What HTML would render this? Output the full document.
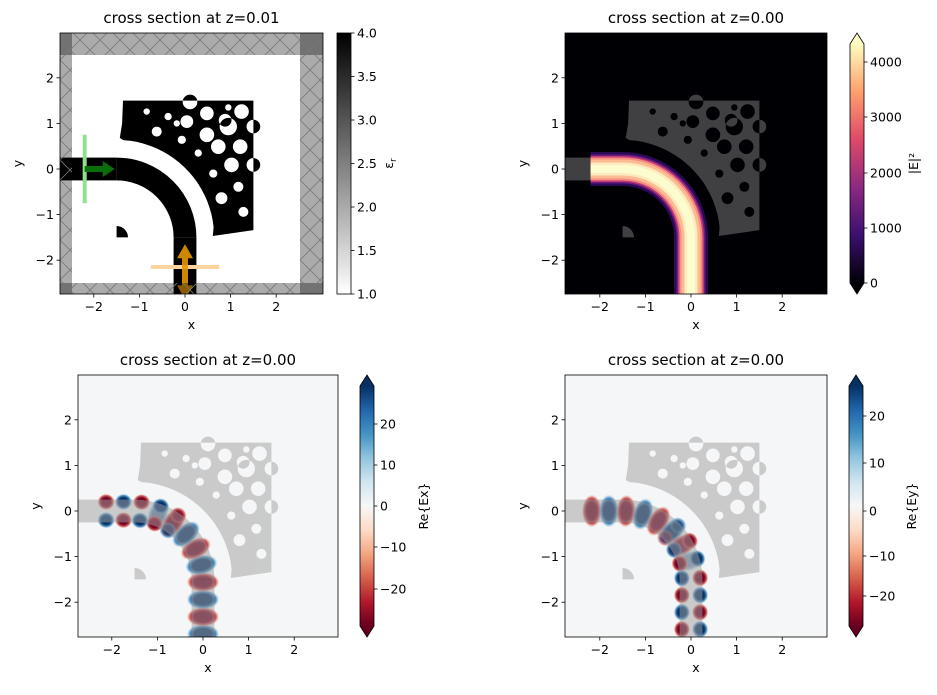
<!DOCTYPE html>
<html><head><meta charset="utf-8"><style>
html,body{margin:0;padding:0;background:#fff;}
svg text{font-family:"DejaVu Sans","Liberation Sans",sans-serif;fill:#000;}
</style></head><body>
<svg id="s" width="937" height="690" xmlns="http://www.w3.org/2000/svg">
<defs>
<pattern id="hatch" width="20" height="20" patternUnits="userSpaceOnUse">
<path d="M0,0L20,20M20,0L0,20" stroke="#7a7a7a" stroke-width="0.8" fill="none"/>
</pattern>
<radialGradient id="gr"><stop offset="0" stop-color="#67001f"/><stop offset="0.55" stop-color="#7a0524"/><stop offset="0.8" stop-color="#c43c3c" stop-opacity="0.8"/><stop offset="1" stop-color="#f4a582" stop-opacity="0"/></radialGradient>
<radialGradient id="gb"><stop offset="0" stop-color="#053061"/><stop offset="0.55" stop-color="#08356a"/><stop offset="0.8" stop-color="#2f7fba" stop-opacity="0.8"/><stop offset="1" stop-color="#92c5de" stop-opacity="0"/></radialGradient>
<linearGradient id="cgray" x1="0" y1="1" x2="0" y2="0"><stop offset="0" stop-color="#fff"/><stop offset="1" stop-color="#000"/></linearGradient>
<linearGradient id="cmag" x1="0" y1="1" x2="0" y2="0"><stop offset="0" stop-color="#000004"/><stop offset="0.2" stop-color="#3b0f70"/><stop offset="0.4" stop-color="#8c2981"/><stop offset="0.6" stop-color="#de4968"/><stop offset="0.8" stop-color="#fe9f6d"/><stop offset="1" stop-color="#fcfdbf"/></linearGradient>
<linearGradient id="crdbu" x1="0" y1="1" x2="0" y2="0"><stop offset="0" stop-color="#67001f"/><stop offset="0.1" stop-color="#b2182b"/><stop offset="0.2" stop-color="#d6604d"/><stop offset="0.3" stop-color="#f4a582"/><stop offset="0.4" stop-color="#fddbc7"/><stop offset="0.5" stop-color="#f7f7f7"/><stop offset="0.6" stop-color="#d1e5f0"/><stop offset="0.7" stop-color="#92c5de"/><stop offset="0.8" stop-color="#4393c3"/><stop offset="0.9" stop-color="#2166ac"/><stop offset="1" stop-color="#053061"/></linearGradient>
<clipPath id="c1"><rect x="60" y="33" width="263" height="261"/></clipPath>
<clipPath id="c2"><rect x="565" y="33" width="262" height="261"/></clipPath>
<clipPath id="c3"><rect x="78" y="375" width="260" height="262"/></clipPath>
<clipPath id="c4"><rect x="565" y="375" width="262" height="262"/></clipPath>
</defs>
</svg>
<script>
const S=45.6;
let out='';
const poly=[[-1.36,1.5],[1.5,1.5],[1.5,-1.34],[0.61,-1.47]];
for(let a=6;a<=86;a+=4){const t=a*Math.PI/180;const r=2.14;poly.push([-1.5+r*Math.cos(t),-1.5+r*Math.sin(t)]);}
poly.push([-1.43,0.68],[-1.38,1.0]);
const holes=[[0.11,1.47,0.16],[0.48,1.22,0.15],[1.24,1.26,0.16],[0.88,1.07,0.14],[0.04,1.04,0.14],[0.48,0.75,0.16],[0.95,0.93,0.19],[1.5,0.93,0.15],[0.73,0.49,0.16],[1.21,0.49,0.16],[-0.62,0.82,0.11],[-0.37,1.15,0.08],[-0.07,0.64,0.09],[0.29,0.35,0.08],[1.02,0.09,0.16],[1.5,0.09,0.15],[0.62,-0.1,0.09],[1.17,-0.39,0.11],[0.8,-0.64,0.13],[1.28,-0.94,0.11],[-0.84,1.26,0.07],[-0.18,1.0,0.07],[0.95,1.35,0.07]];
function mk(x0,y0){return {X:x=>x0+x*S,Y:y=>y0-y*S};}
function structure(m,fill,op){
 let d='M'+poly.map(p=>m.X(p[0]).toFixed(1)+','+m.Y(p[1]).toFixed(1)).join('L')+'Z';
 holes.forEach(h=>{const r=h[2]*S,cx=m.X(h[0]),cy=m.Y(h[1]);d+=`M${cx-r},${cy}a${r},${r} 0 1,0 ${2*r},0a${r},${r} 0 1,0 ${-2*r},0Z`;});
 let s=`<g opacity="${op}"><path d="${d}" fill="${fill}" fill-rule="evenodd"/>`;
 const r=1.5*S;
 s+=`<path d="M${m.X(-1.5)},${m.Y(0)}A${r},${r} 0 0 1 ${m.X(0)},${m.Y(-1.5)}" stroke="${fill}" stroke-width="${0.5*S}" fill="none"/>`;
 s+=`<rect x="${m.X(-2.8)}" y="${m.Y(0.25)}" width="${1.3*S}" height="${0.5*S}" fill="${fill}"/>`;
 s+=`<rect x="${m.X(-0.25)}" y="${m.Y(-1.5)}" width="${0.5*S}" height="${1.3*S}" fill="${fill}"/>`;
 const q=0.25*S;
 s+=`<path d="M${m.X(-1.5)},${m.Y(-1.5)}L${m.X(-1.5)},${m.Y(-1.25)}A${q},${q} 0 0 1 ${m.X(-1.25)},${m.Y(-1.5)}Z" fill="${fill}"/></g>`;
 return s;
}
function cl(s){
 if(s<0.7) return [-2.2+s,0,0];
 if(s<3.056){const th=Math.PI/2-(s-0.7)/1.5;return [-1.5+1.5*Math.cos(th),-1.5+1.5*Math.sin(th),Math.atan2(-Math.cos(th),Math.sin(th))];}
 return [0,-1.5-(s-3.056),-Math.PI/2];
}
function blob(m,x,y,phi,rx,ry,sign,op){
 const a=-phi*180/Math.PI;
 return `<ellipse cx="${m.X(x).toFixed(1)}" cy="${m.Y(y).toFixed(1)}" rx="${(rx*S).toFixed(1)}" ry="${(ry*S).toFixed(1)}" transform="rotate(${a.toFixed(1)} ${m.X(x).toFixed(1)} ${m.Y(y).toFixed(1)})" fill="url(#${sign?'gr':'gb'})" opacity="${Math.min(1,op).toFixed(2)}"/>`;
}
function field(m,comp){
 let s='';
 let start=comp=='x'?3.876+0.38:0.4-0.375;
 let step=comp=='x'?-0.38:0.375;
 for(let k=0;k<14;k++){
  const ss=start+k*step; if(ss<0||ss>4.5) continue;
  const [x,y,phi]=cl(ss);
  let w=comp=='x'?Math.abs(Math.sin(phi)):Math.abs(Math.cos(phi));
  let sign=(k%2==0);
  if(comp=='x') sign=(k%2==1);
  if(w>0.25) s+=blob(m,x,y,phi,0.22,0.36,sign,w*1.8);
  const p=1-w;
  if(p>0.25){const nx=-Math.sin(phi),ny=Math.cos(phi);
   s+=blob(m,x+nx*0.2,y+ny*0.2,phi,0.19,0.18,sign,p*1.8);
   s+=blob(m,x-nx*0.2,y-ny*0.2,phi,0.19,0.18,!sign,p*1.8);}
 }
 return s;
}
function axes(m,L,T,R,B,title){
 let s=`<rect x="${L}" y="${T}" width="${R-L}" height="${B-T}" fill="none" stroke="#000" stroke-width="0.8"/>`;
 for(let k=-2;k<=2;k++){const x=m.X(k);s+=`<line x1="${x}" y1="${B}" x2="${x}" y2="${B+3.5}" stroke="#000" stroke-width="0.8"/><text x="${x}" y="${B+17}" font-size="12.5" text-anchor="middle">${k<0?'\u2212'+(-k):k}</text>`;
  const y=m.Y(k);s+=`<line x1="${L}" y1="${y}" x2="${L-3.5}" y2="${y}" stroke="#000" stroke-width="0.8"/><text x="${L-6}" y="${y+4.5}" font-size="12.5" text-anchor="end">${k<0?'\u2212'+(-k):k}</text>`;}
 s+=`<text x="${(L+R)/2}" y="${B+35}" font-size="12.5" text-anchor="middle">x</text>`;
 s+=`<text transform="translate(${L-38},${(T+B)/2}) rotate(-90)" font-size="12.5" text-anchor="middle">y</text>`;
 s+=`<text x="${(L+R)/2}" y="${T-10}" font-size="15" text-anchor="middle">${title}</text>`;
 return s;
}
function cbar(x,t,b,grad,ext,ticks,label,lx,extcol){
 let s='';const w=14;
 if(ext){const e=11;
  s+=`<rect x="${x}" y="${t+e}" width="${w}" height="${b-t-2*e}" fill="url(#${grad})"/>`;
  s+=`<path d="M${x},${t+e}L${x+w/2},${t}L${x+w},${t+e}Z" fill="${extcol[0]}"/><path d="M${x},${b-e}L${x+w/2},${b}L${x+w},${b-e}Z" fill="${extcol[1]}"/>`;
  s+=`<path d="M${x},${t+e}L${x+w/2},${t}L${x+w},${t+e}L${x+w},${b-e}L${x+w/2},${b}L${x},${b-e}Z" fill="none" stroke="#000" stroke-width="0.8"/>`;
 } else {
  s+=`<rect x="${x}" y="${t}" width="${w}" height="${b-t}" fill="url(#${grad})" stroke="#000" stroke-width="0.8"/>`;
 }
 ticks.forEach(([y,l])=>{s+=`<line x1="${x+w}" y1="${y}" x2="${x+w+3.5}" y2="${y}" stroke="#000" stroke-width="0.8"/><text x="${x+w+6}" y="${y+4.5}" font-size="12.5">${l}</text>`;});
 s+=`<text transform="translate(${lx},${(t+b)/2}) rotate(-90)" font-size="12.5" text-anchor="middle">${label}</text>`;
 return s;
}
// Panel 1
{const m=mk(185,169);let s=`<g clip-path="url(#c1)"><rect x="60" y="33" width="263" height="261" fill="#fff"/>`;
 s+=structure(m,'#000',1);
 s+=`<line x1="${m.X(-2.2)}" y1="${m.Y(0.75)}" x2="${m.X(-2.2)}" y2="${m.Y(-0.75)}" stroke="#90e090" stroke-width="4"/>`;
 s+=`<path d="M${m.X(-2.2)},${m.Y(0)-3}h18v-5l12,8l-12,8v-5h-18z" fill="#0a6e0a"/>`;
 s+=`<line x1="${m.X(-0.75)}" y1="${m.Y(-2.15)}" x2="${m.X(0.75)}" y2="${m.Y(-2.15)}" stroke="#fdd49e" stroke-width="4"/>`;
 const cx=m.X(0);
 s+=`<path d="M${cx-3},${m.Y(-1.85)+2}h6v30h5l-8,14l-8,-14h5z M${cx},${m.Y(-1.65)}l8,14h-16z" fill="#e69500" opacity="0.9"/>`;
 const bands=[[60,33,263,22],[60,33,12,261],[300,33,23,261],[60,283,263,11]];
 bands.forEach(b=>{s+=`<rect x="${b[0]}" y="${b[1]}" width="${b[2]}" height="${b[3]}" fill="#000" opacity="0.33"/><rect x="${b[0]}" y="${b[1]}" width="${b[2]}" height="${b[3]}" fill="url(#hatch)"/>`;});
 s+='</g>';s+=axes(m,60,33,323,294,'cross section at z=0.01');
 s+=cbar(337,33,294,'cgray',false,[[294,'1.0'],[250.5,'1.5'],[207,'2.0'],[163.5,'2.5'],[120,'3.0'],[76.5,'3.5'],[33,'4.0']],'ε<tspan font-size="9" dy="3">r</tspan>',393);
 out+=s;}
// Panel 2
{const m=mk(691,169);let s=`<g clip-path="url(#c2)"><rect x="565" y="33" width="262" height="261" fill="#000004"/>`;
 const r=1.5*S;const d=`M${m.X(-2.2)},${m.Y(0)}H${m.X(-1.5)}A${r},${r} 0 0 1 ${m.X(0)},${m.Y(-1.5)}V${m.Y(-2.8)}`;
 [[34,'#2a0a55'],[29,'#6a1c81'],[26,'#c33a76'],[23,'#f06a5a'],[19,'#fca56f'],[13,'#fde3a8'],[8,'#fcfdbf']].forEach(([w,c])=>{s+=`<path d="${d}" stroke="${c}" stroke-width="${w}" fill="none"/>`;});
 s+=structure(m,'#fff',0.25);
 s+='</g>';s+=axes(m,565,33,827,294,'cross section at z=0.00');
 s+=cbar(850,33,294,'cmag',true,[[283,'0'],[228,'1000'],[173,'2000'],[117,'3000'],[62,'4000']],'|E|²',918,['#fcfdbf','#000004']);
 out+=s;}
// Panel 3
{const m=mk(203,511);let s=`<g clip-path="url(#c3)"><rect x="78" y="375" width="260" height="262" fill="#f5f6f7"/>`;
 s+=field(m,'x');
 s+=structure(m,'#a0a0a0',0.5);
 s+='</g>';s+=axes(m,78,375,338,637,'cross section at z=0.00');
 s+=cbar(360,375,637,'crdbu',true,[[424,'20'],[465,'10'],[506,'0'],[547,'\u221210'],[589,'\u221220']],'Re{Ex}',428,['#053061','#67001f']);
 out+=s;}
// Panel 4
{const m=mk(691,511);let s=`<g clip-path="url(#c4)"><rect x="565" y="375" width="262" height="262" fill="#f5f6f7"/>`;
 s+=field(m,'y');
 s+=structure(m,'#a0a0a0',0.5);
 s+='</g>';s+=axes(m,565,375,827,637,'cross section at z=0.00');
 s+=cbar(849,375,637,'crdbu',true,[[416,'20'],[463,'10'],[511,'0'],[556,'\u221210'],[596,'\u221220']],'Re{Ey}',916,['#053061','#67001f']);
 out+=s;}
document.getElementById('s').insertAdjacentHTML('beforeend',out);
</script>
</body></html>
